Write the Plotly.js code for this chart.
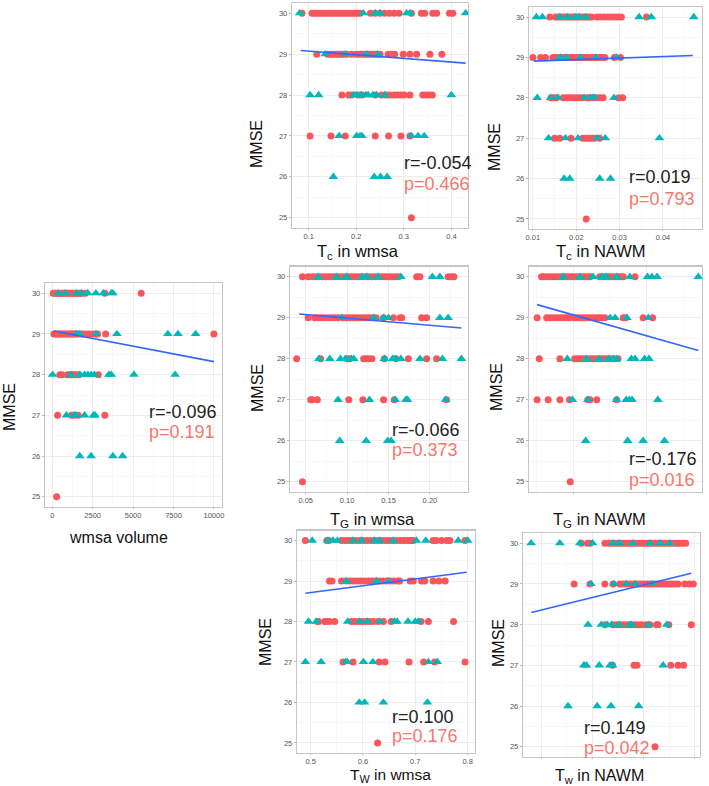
<!DOCTYPE html>
<html>
<head>
<meta charset="utf-8">
<script src="https://cdn.plot.ly/plotly-3.0.1.min.js"></script>
<style>html,body{margin:0;padding:0;background:#fff;}#chart{width:709px;height:786px;}</style>
</head>
<body>
<div id="chart"></div>
<script>
// ---------------- DATA (rows: [MMSE, [x values]]) ----------------
const mmseTicks = [25, 26, 27, 28, 29, 30];

// Panel 1: wmsa volume
const volRed = [
  [30, [60,150,250,350,450,550,650,750,850,950,1050,1150,1250,1350,1450,1550,1650,1750,1850,2050,3250,5500]],
  [29, [100,200,300,400,500,600,700,800,900,1000,1100,1200,1300,1400,1500,1600,1800,1900,2100,2300,2500,2700,2800,3300,10000]],
  [28, [470,600,950,1100,1200,1300,1400,1500,1650,2850]],
  [27, [330,1200,1350,1600,3250]],
  [25, [270]]
];
const volTeal = [
  [30, [370,800,1500,1800,2200,2700,3150,3650,3750]],
  [29, [1500,1700,2700,4000,7150,7780,8870]],
  [28, [20,1150,1700,2000,2200,2400,2600,3500,3650,5050,7600]],
  [27, [880,1350,1450,2000,2550,2650]],
  [26, [1700,2400,3750,4350]]
];
const volFitX = [100, 10000], volFitY = [29.07, 28.32];

// Panel 2: Tc in wmsa
const tcWRed = [
  [30, [0.086,0.107,0.112,0.117,0.122,0.127,0.132,0.137,0.142,0.147,0.152,0.157,0.162,0.167,0.172,0.177,0.182,0.187,0.192,0.197,0.202,0.208,0.23,0.24,0.25,0.26,0.27,0.28,0.29,0.316,0.337,0.344,0.361,0.369,0.396,0.403]],
  [29, [0.117,0.14,0.145,0.15,0.155,0.16,0.165,0.17,0.175,0.18,0.19,0.2,0.205,0.21,0.215,0.22,0.225,0.23,0.235,0.24,0.245,0.25,0.267,0.274,0.281,0.299,0.313,0.327,0.355,0.38]],
  [28, [0.17,0.184,0.19,0.205,0.212,0.24,0.253,0.262,0.27,0.28,0.287,0.294,0.301,0.313,0.34,0.347,0.354,0.36]],
  [27, [0.103,0.147,0.177,0.24,0.268,0.294,0.313]],
  [25, [0.316]]
];
const tcWTeal = [
  [30, [0.081,0.215,0.24,0.25,0.306,0.313,0.43]],
  [29, [0.135,0.177,0.222,0.245]],
  [28, [0.103,0.121,0.195,0.2,0.21,0.22,0.225,0.235,0.243,0.26,0.4]],
  [27, [0.164,0.201,0.208,0.212,0.316,0.33,0.343]],
  [26, [0.152,0.238,0.251,0.265]]
];
const tcWFitX = [0.083, 0.43], tcWFitY = [29.09, 28.78];

// Panel 3: Tc in NAWM
const tcNRed = [
  [30, [0.0139,0.0152,0.0158,0.0164,0.017,0.0176,0.0182,0.0188,0.0194,0.02,0.0206,0.0212,0.0218,0.0224,0.023,0.0236,0.0248,0.0256,0.0264,0.0272,0.028,0.0288,0.0296,0.0304,0.0362]],
  [29, [0.01,0.0118,0.0129,0.0146,0.0152,0.0158,0.0164,0.017,0.0176,0.0182,0.0188,0.0194,0.02,0.0206,0.0212,0.0218,0.0224,0.023,0.0236,0.0242,0.0248,0.0254,0.026,0.0266,0.0288,0.0302]],
  [28, [0.0142,0.0148,0.0154,0.017,0.0178,0.0185,0.0192,0.02,0.0208,0.0215,0.0225,0.023,0.0238,0.0246,0.0254,0.0262,0.0298,0.0307]],
  [27, [0.015,0.0162,0.0188,0.0215,0.0222,0.0228,0.0235,0.0242,0.0254]],
  [25, [0.0223]]
];
const tcNTeal = [
  [30, [0.0108,0.0122,0.0162,0.018,0.0198,0.0206,0.0222,0.0345,0.0373,0.0471]],
  [29, [0.0163,0.0177,0.021,0.0245,0.0293]],
  [28, [0.011,0.0141,0.0158,0.0218,0.0233,0.0238,0.0242,0.0287]],
  [27, [0.0136,0.0175,0.0204,0.0248,0.0267,0.0392]],
  [26, [0.0172,0.0185,0.0254,0.0279]]
];
const tcNFitX = [0.0102, 0.0469], tcNFitY = [28.91, 29.05];

// Panel 4: TG in wmsa
const tgWRed = [
  [30, [0.046,0.053,0.058,0.062,0.066,0.07,0.074,0.078,0.082,0.086,0.09,0.094,0.098,0.102,0.106,0.11,0.114,0.118,0.122,0.126,0.13,0.134,0.138,0.142,0.146,0.15,0.154,0.158,0.162,0.184,0.188,0.222,0.226,0.229]],
  [29, [0.053,0.061,0.065,0.069,0.073,0.077,0.081,0.085,0.089,0.095,0.099,0.103,0.107,0.111,0.115,0.119,0.123,0.127,0.131,0.135,0.144,0.156,0.164,0.166,0.19,0.196]],
  [28, [0.039,0.068,0.1,0.103,0.12,0.123,0.126,0.13,0.145,0.159,0.174,0.196,0.208]],
  [27, [0.056,0.058,0.064,0.102,0.119,0.144,0.157,0.22]],
  [25, [0.046]]
];
const tgWTeal = [
  [30, [0.065,0.087,0.099,0.118,0.124,0.137,0.165,0.203,0.212]],
  [29, [0.093,0.132,0.144,0.15,0.212,0.222]],
  [28, [0.066,0.079,0.092,0.098,0.105,0.108,0.145,0.155,0.158,0.165,0.188,0.215,0.238]],
  [27, [0.089,0.127,0.158,0.171,0.173,0.219]],
  [26, [0.091,0.123,0.149,0.153]]
];
const tgWFitX = [0.042, 0.238], tgWFitY = [29.09, 28.75];

// Panel 5: TG in NAWM
const tgNRed = [
  [30, [0.0057,0.006,0.0064,0.0068,0.0072,0.0076,0.008,0.0084,0.0088,0.0092,0.0096,0.01,0.0104,0.0108,0.0112,0.0116,0.012,0.0123,0.0136,0.014,0.0144,0.0148,0.0152,0.0156,0.016,0.0164,0.0168,0.0184]],
  [29, [0.0051,0.0064,0.0068,0.0072,0.0076,0.008,0.0084,0.0088,0.0092,0.0095,0.0102,0.0106,0.011,0.0114,0.0118,0.0122,0.0126,0.013,0.0134,0.0138,0.0143,0.0168,0.0171,0.0195,0.0208]],
  [28, [0.0054,0.0082,0.0102,0.0106,0.011,0.0114,0.0118,0.0123,0.0127,0.0131,0.0135,0.0139,0.0143,0.0147,0.0151,0.0155,0.0161]],
  [27, [0.0051,0.0066,0.0082,0.0095,0.012,0.0123,0.0132,0.0159]],
  [25, [0.0096]]
];
const tgNTeal = [
  [30, [0.0086,0.0109,0.0127,0.0139,0.0145,0.0159,0.0177,0.0201,0.0207,0.0214,0.027]],
  [29, [0.015,0.0157,0.0173,0.0202]],
  [28, [0.0092,0.0118,0.0135,0.0148,0.0155,0.0159,0.0179,0.0184,0.0197,0.0203]],
  [27, [0.0099,0.012,0.0159,0.0172,0.0176,0.018,0.0215]],
  [26, [0.0117,0.0174,0.0195,0.0224]]
];
const tgNFitX = [0.0051, 0.027], tgNFitY = [29.32, 28.2];

// Panel 6: TW in wmsa
const twWRed = [
  [30, [0.49,0.531,0.535,0.559,0.566,0.573,0.58,0.587,0.594,0.601,0.608,0.615,0.622,0.629,0.636,0.643,0.65,0.657,0.664,0.671,0.678,0.685,0.69,0.693,0.696,0.734,0.74,0.75,0.76,0.766,0.795]],
  [29, [0.536,0.541,0.559,0.568,0.575,0.582,0.589,0.596,0.603,0.61,0.617,0.624,0.631,0.638,0.645,0.652,0.659,0.666,0.67,0.69,0.696,0.712,0.718,0.734,0.745,0.757]],
  [28, [0.513,0.515,0.527,0.531,0.536,0.546,0.578,0.585,0.592,0.599,0.606,0.613,0.62,0.629,0.639,0.654,0.711,0.725,0.773]],
  [27, [0.562,0.581,0.631,0.642,0.688,0.716,0.737,0.795]],
  [25, [0.628]]
];
const twWTeal = [
  [30, [0.503,0.533,0.543,0.551,0.581,0.597,0.622,0.632,0.658,0.702,0.72,0.782,0.8]],
  [29, [0.568,0.626,0.648]],
  [28, [0.496,0.511,0.571,0.594,0.608,0.632,0.66,0.665,0.686,0.7,0.706]],
  [27, [0.49,0.52,0.567,0.57,0.601,0.619,0.725,0.742]],
  [26, [0.593,0.603,0.639,0.723]]
];
const twWFitX = [0.49, 0.798], twWFitY = [28.70, 29.22];

// Panel 7: Tw in NAWM
const twNRed = [
  [30, [0.178,0.19,0.195,0.224,0.232,0.238,0.244,0.25,0.256,0.262,0.268,0.274,0.28,0.286,0.292,0.298,0.304,0.31,0.316,0.322,0.328,0.334,0.34,0.346,0.352,0.358,0.364,0.37,0.376,0.382]],
  [29, [0.164,0.195,0.224,0.24,0.253,0.259,0.265,0.271,0.277,0.283,0.289,0.295,0.301,0.307,0.313,0.319,0.325,0.331,0.337,0.343,0.349,0.355,0.361,0.367,0.38,0.389,0.397]],
  [28, [0.224,0.24,0.247,0.254,0.261,0.268,0.275,0.282,0.289,0.296,0.305,0.312,0.325,0.328,0.349,0.393]],
  [27, [0.239,0.281,0.287,0.353,0.367,0.378]],
  [25, [0.322]]
];
const twNTeal = [
  [30, [0.08,0.136,0.175,0.2,0.24,0.253,0.279,0.312,0.332,0.351]],
  [29, [0.197,0.242,0.266,0.283,0.317]],
  [28, [0.191,0.217,0.229,0.237,0.252,0.273,0.276,0.309,0.345]],
  [27, [0.183,0.188,0.213,0.234,0.239,0.338]],
  [26, [0.152,0.209,0.236,0.29]]
];
const twNFitX = [0.08, 0.393], twNFitY = [28.3, 29.26];

const rTexts = ["r=-0.096", "r=-0.054", "r=0.019", "r=-0.066", "r=-0.176", "r=0.100", "r=0.149"];
const pTexts = ["p=0.191", "p=0.466", "p=0.793", "p=0.373", "p=0.016", "p=0.176", "p=0.042"];
const xTitles = ["wmsa volume", "T<sub>c</sub> in wmsa", "T<sub>c</sub> in NAWM", "T<sub>G</sub> in wmsa",
                 "T<sub>G</sub> in NAWM", "T<sub>W</sub> in wmsa", "T<sub>w</sub> in NAWM"];

// ---------------- LAYOUT / STYLE ----------------
const W = 709, H = 786;
const RED = '#f9555a', TEAL = '#00b8ba', BLUE = '#3366ff';
const FONT = 'Liberation Sans, Arial, sans-serif';

const panels = [
  {red: volRed, teal: volTeal, fx: volFitX, fy: volFitY, box: [45, 222, 283, 507], xr: [-450, 10500], t0: 0, dt: 2500, fmt: 'd', lab: true,
   rp: [147, 412, 432], tt: [119, 537, 16], mm: [9, 407]},
  {red: tcWRed, teal: tcWTeal, fx: tcWFitX, fy: tcWFitY, box: [292, 468, 3, 228], xr: [0.065, 0.435], t0: 0, dt: 0.1, fmt: '.1f', lab: true,
   rp: [402, 163, 184], tt: [358, 252, 16.5], mm: [257, 144]},
  {red: tcNRed, teal: tcNTeal, fx: tcNFitX, fy: tcNFitY, box: [529, 702, 7, 229], xr: [0.0091, 0.049], t0: 0, dt: 0.01, fmt: '.2f', lab: true,
   rp: [627, 177, 199], tt: [601, 252, 16.5], mm: [494, 147]},
  {red: tgWRed, teal: tgWTeal, fx: tgWFitX, fy: tgWFitY, box: [290, 468, 266.5, 492], xr: [0.031, 0.246], t0: 0, dt: 0.05, fmt: '.2f', lab: true,
   rp: [390, 430, 450], tt: [373, 520, 16.5], mm: [257, 388]},
  {red: tgNRed, teal: tgNTeal, fx: tgNFitX, fy: tgNFitY, box: [529, 702, 266.5, 492], xr: [0.004, 0.0275], t0: 0, dt: 0.01, fmt: '.2f', lab: false,
   rp: [627, 459, 480], tt: [599, 520, 16.5], mm: [496, 387]},
  {red: twWRed, teal: twWTeal, fx: twWFitX, fy: twWFitY, box: [297, 475, 530.5, 753], xr: [0.474, 0.814], t0: 0, dt: 0.1, fmt: '.1f', lab: true,
   rp: [390, 717, 736], tt: [390, 775, 15.5], mm: [265, 642]},
  {red: twNRed, teal: twNTeal, fx: twNFitX, fy: twNFitY, box: [523, 700, 533, 757], xr: [0.064, 0.41], t0: 0, dt: 0.1, fmt: '.1f', lab: false,
   rp: [582, 728, 748], tt: [599, 776, 16], mm: [498, 643]}
];

function flatten(rows) {
  const xs = [], ys = [];
  rows.forEach(([lvl, vals]) => vals.forEach(v => { xs.push(v); ys.push(lvl); }));
  return {xs, ys};
}

const traces = [];
const layout = {
  width: W, height: H, margin: {l: 0, r: 0, t: 0, b: 0},
  paper_bgcolor: '#fff', plot_bgcolor: '#fff', showlegend: false,
  font: {family: FONT}, annotations: []
};
const px = v => v / W, py = v => 1 - v / H;

panels.forEach((p, i) => {
  const n = i + 1;
  const xa = n === 1 ? 'x' : 'x' + n, ya = n === 1 ? 'y' : 'y' + n;
  const r = flatten(p.red), t = flatten(p.teal);
  traces.push({type: 'scatter', mode: 'markers', x: r.xs, y: r.ys, xaxis: xa, yaxis: ya,
    marker: {symbol: 'circle', size: 7, color: RED, line: {width: 0}}, hoverinfo: 'skip'});
  traces.push({type: 'scatter', mode: 'markers', x: t.xs, y: t.ys, xaxis: xa, yaxis: ya,
    marker: {symbol: 'triangle-up', size: 8.5, color: TEAL, line: {width: 0}}, hoverinfo: 'skip'});
  traces.push({type: 'scatter', mode: 'lines', x: p.fx, y: p.fy, xaxis: xa, yaxis: ya,
    line: {color: BLUE, width: 1.6}, hoverinfo: 'skip'});

  const common = {
    showline: true, mirror: true, linecolor: '#c6c6c6', linewidth: 1.2,
    showgrid: true, gridcolor: '#e9e9e9', gridwidth: 0.8, zeroline: false,
    ticks: 'outside', ticklen: 2, tickcolor: '#b8b8b8', tickwidth: 1,
    tickfont: {size: 7.5, color: '#555', family: FONT}, fixedrange: true
  };
  layout[n === 1 ? 'xaxis' : 'xaxis' + n] = Object.assign({}, common, {
    domain: [px(p.box[0]), px(p.box[1])], anchor: ya, range: p.xr, ticklen: 1,
    tick0: p.t0, dtick: p.dt, tickformat: p.fmt, showticklabels: p.lab,
    minor: {showgrid: true, gridcolor: '#f4f4f4', gridwidth: 0.6, tick0: p.t0, dtick: p.dt / 2}
  });
  layout[n === 1 ? 'yaxis' : 'yaxis' + n] = Object.assign({}, common, {
    domain: [py(p.box[3]), py(p.box[2])], anchor: xa, range: [24.75, 30.25],
    tickvals: mmseTicks,
    minor: {showgrid: true, gridcolor: '#f4f4f4', gridwidth: 0.6, tick0: 24.5, dtick: 1}
  });

  layout.annotations.push({xref: 'paper', yref: 'paper', x: px(p.rp[0]), y: py(p.rp[1]), xanchor: 'left', yanchor: 'middle',
    text: rTexts[i], showarrow: false, font: {size: 18, color: '#222', family: FONT}});
  layout.annotations.push({xref: 'paper', yref: 'paper', x: px(p.rp[0]), y: py(p.rp[2]), xanchor: 'left', yanchor: 'middle',
    text: pTexts[i], showarrow: false, font: {size: 18, color: '#f8766d', family: FONT}});
  layout.annotations.push({xref: 'paper', yref: 'paper', x: px(p.tt[0]), y: py(p.tt[1]), xanchor: 'center', yanchor: 'middle',
    text: xTitles[i], showarrow: false, borderpad: 0, font: {size: p.tt[2], color: '#111', family: FONT}});
  layout.annotations.push({xref: 'paper', yref: 'paper', x: px(p.mm[0]), y: py(p.mm[1]), xanchor: 'center', yanchor: 'middle',
    text: 'MMSE', textangle: -90, showarrow: false, font: {size: 16, color: '#111', family: FONT}});
});

Plotly.newPlot('chart', traces, layout, {staticPlot: true, displayModeBar: false});
</script>
</body>
</html>
